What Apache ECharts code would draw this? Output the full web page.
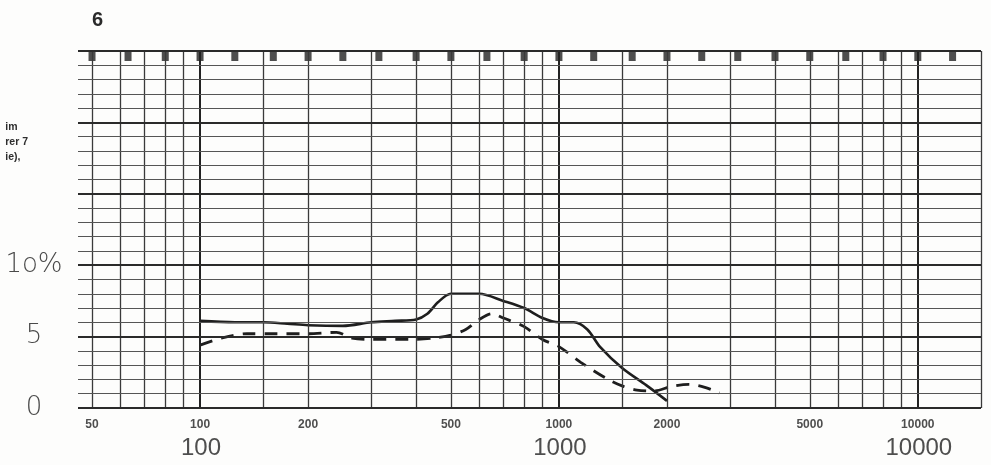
<!DOCTYPE html>
<html>
<head>
<meta charset="utf-8">
<script src="https://cdn.jsdelivr.net/npm/echarts@6.0.0/dist/echarts.min.js"></script>
<style>
html,body{margin:0;padding:0;background:#fdfdfc;}
#chart{width:991px;height:465px;}
</style>
</head>
<body>
<div id="chart"></div>
<script>
// Frequenzgang / Klirrfaktor, Blatt 6
var solidFreq = [100, 125, 150, 175, 200, 250, 300, 350, 400, 430, 460, 500, 600, 700, 800, 900, 1000, 1100, 1200, 1300, 1500, 1750, 2000];
var solidVal  = [6.1, 6.0, 6.0, 5.9, 5.8, 5.75, 6.0, 6.1, 6.2, 6.6, 7.4, 8.0, 8.0, 7.5, 7.0, 6.3, 6.0, 6.0, 5.5, 4.3, 2.8, 1.6, 0.5];

var dashFreq = [100, 115, 135, 160, 200, 240, 265, 300, 380, 450, 500, 550, 600, 650, 700, 800, 900, 1000, 1150, 1350, 1500, 1650, 1850, 2050, 2300, 2550, 2800];
var dashVal  = [4.4, 4.9, 5.2, 5.2, 5.2, 5.3, 4.9, 4.8, 4.8, 4.9, 5.1, 5.5, 6.2, 6.6, 6.3, 5.7, 4.8, 4.3, 3.2, 2.1, 1.55, 1.25, 1.2, 1.5, 1.65, 1.45, 1.05];

// Gitterlinien
var vLines = [50, 60, 70, 80, 90, 100, 150, 200, 300, 400, 500, 600, 700, 800, 900, 1000, 1500, 2000, 3000, 4000, 5000, 6000, 7000, 8000, 9000, 10000, 15000];
var hLines = [0,1,2,3,4,5,6,7,8,9,10,11,12,13,14,15,16,17,18,19,20,21,22,23,24,25];
// Terzmarken oben
var terzFreq = [50, 63, 80, 100, 125, 160, 200, 250, 315, 400, 500, 630, 800, 1000, 1250, 1600, 2000, 2500, 3150, 4000, 5000, 6300, 8000, 10000, 12500];
// Achsbeschriftung
var smallTicks = [50, 100, 200, 500, 1000, 2000, 5000, 10000];
var bigTicks = [100, 1000, 10000];
var yTicks = {0: '0', 5: '5', 10: '1o%'};

var ink = '#1e1e1e';
var dom = document.getElementById('chart');
var myChart = echarts.init(dom, null, {renderer: 'canvas'});

function zip(a, b) {
    return a.map(function (v, i) { return [v, b[i]]; });
}

var vData = vLines.map(function (f) {
    var major = (f === 100 || f === 1000 || f === 10000);
    return {xAxis: f, lineStyle: {width: major ? 2 : 1.3, color: major ? '#222' : '#3a3a3a', type: 'solid'}};
});
var hData = hLines.map(function (v) {
    var major = v % 5 === 0;
    return {yAxis: v, lineStyle: {width: major ? 2 : 1, color: major ? '#2a2a2a' : '#555', type: 'solid'}};
});

var option = {
    animation: false,
    backgroundColor: '#fdfdfc',
    title: {
        text: '6',
        left: 87,
        top: 5,
        textStyle: {fontFamily: 'Liberation Sans', fontWeight: 'bold', fontSize: 20, color: '#2a2a2a'}
    },
    graphic: [{
        type: 'text',
        right: 963,
        top: 120,
        style: {
            text: 'im\nrer 7\nie),',
            align: 'right',
            lineHeight: 15,
            font: 'bold 10.5px "Liberation Sans"',
            fill: '#2e2e2e'
        }
    }],
    grid: {left: 78, right: 10, top: 51, bottom: 57, outerBoundsMode: 'none'},
    xAxis: {
        type: 'log',
        logBase: 10,
        min: 45.7,
        max: 15000,
        axisLine: {show: false},
        axisTick: {show: false},
        axisLabel: {show: false},
        splitLine: {show: false}
    },
    yAxis: {
        type: 'value',
        min: 0,
        max: 25,
        interval: 1,
        axisLine: {show: false},
        axisTick: {show: false},
        splitLine: {show: false},
        axisLabel: {
            margin: 44,
            align: 'center',
            fontFamily: 'DejaVu Sans',
            fontWeight: 200,
            fontSize: 26,
            color: '#4a4a4a',
            formatter: function (v) { return yTicks[v] || ''; }
        }
    },
    series: [
        {
            name: 'grid-v',
            type: 'line',
            data: [],
            silent: true,
            markLine: {silent: true, symbol: ['none', 'none'], label: {show: false}, data: vData}
        },
        {
            name: 'grid-h',
            type: 'line',
            data: [],
            silent: true,
            markLine: {silent: true, symbol: ['none', 'none'], label: {show: false}, data: hData}
        },
        {
            name: 'terz',
            type: 'scatter',
            silent: true,
            clip: false,
            symbol: 'rect',
            symbolSize: [7, 10],
            symbolOffset: [0, 5],
            itemStyle: {color: '#222'},
            data: terzFreq.map(function (f) { return [f, 25]; })
        },
        {
            name: 'solid',
            type: 'line',
            smooth: 0.3,
            showSymbol: false,
            lineStyle: {color: ink, width: 2.6},
            data: zip(solidFreq, solidVal)
        },
        {
            name: 'dashed',
            type: 'line',
            smooth: 0.3,
            showSymbol: false,
            lineStyle: {color: ink, width: 2.8, type: [13, 9]},
            data: zip(dashFreq, dashVal)
        },
        {
            name: 'xlabel-small',
            type: 'scatter',
            silent: true,
            clip: false,
            symbolSize: 0,
            label: {
                show: true,
                position: 'inside',
                offset: [0, 17],
                formatter: function (p) { return String(p.value[0]); },
                fontFamily: 'Liberation Sans',
                fontWeight: 'bold',
                fontSize: 12,
                color: '#222'
            },
            data: smallTicks.map(function (f) { return [f, 0]; })
        },
        {
            name: 'xlabel-big',
            type: 'scatter',
            silent: true,
            clip: false,
            symbolSize: 0,
            label: {
                show: true,
                position: 'inside',
                offset: [1, 40],
                formatter: function (p) { return String(p.value[0]); },
                fontFamily: 'Liberation Sans',
                fontSize: 24,
                color: '#222'
            },
            data: bigTicks.map(function (f) { return [f, 0]; })
        }
    ]
};

if (option && typeof option === 'object') {
    myChart.setOption(option, true);
}
</script>
</body>
</html>
